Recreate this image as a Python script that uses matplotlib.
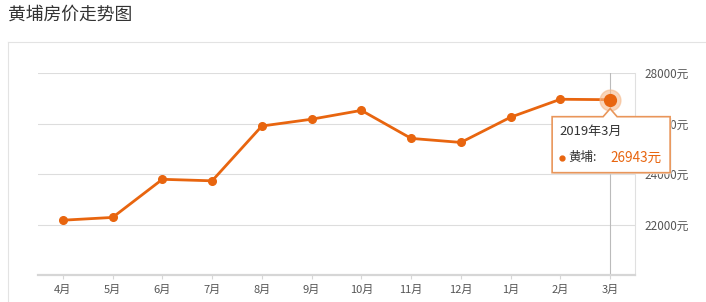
import matplotlib
matplotlib.use('Agg')
import matplotlib.pyplot as plt
from matplotlib.patches import Polygon
from matplotlib.transforms import IdentityTransform

plt.rcParams['font.family'] = ['Noto Sans CJK SC', 'DejaVu Sans']

# --- data ---
TITLE = '黄埔房价走势图'
months = ['4月', '5月', '6月', '7月', '8月', '9月', '10月', '11月', '12月', '1月', '2月', '3月']
prices = [22170, 22280, 23790, 23730, 25900, 26170, 26520, 25410, 25250, 26250, 26960, 26943]
y_ticks = [22000, 24000, 26000, 28000]
tip_title = '2019年3月'
tip_name = '黄埔'

ORANGE = '#e8650f'
W, H = 706, 302

fig = plt.figure(figsize=(W / 100, H / 100), dpi=100)
fig.patch.set_facecolor('white')

# outer card border
fig.add_artist(plt.Line2D([8 / W, 1], [1 - 42 / H, 1 - 42 / H], color='#e3e3e3', lw=0.8))
fig.add_artist(plt.Line2D([8 / W, 8 / W], [0, 1 - 42 / H], color='#e3e3e3', lw=0.8))
fig.text(8 / W, 1 - 15 / H, TITLE, fontsize=12.8, color='#333333', va='center', ha='left')

ax = fig.add_axes([38 / W, 27 / H, (635 - 38) / W, (275 - 73) / H])
x = list(range(len(months)))
ax.set_xlim(-0.5, len(months) - 0.5)
ax.set_ylim(20000, 28000)

for s in ['top', 'left']:
    ax.spines[s].set_visible(False)
ax.spines['bottom'].set_color('#d6d6d6')
ax.spines['bottom'].set_linewidth(1.6)
ax.spines['right'].set_color('#e0e0e0')
ax.spines['right'].set_linewidth(0.8)

ax.set_yticks(y_ticks)
ax.yaxis.tick_right()
ax.set_yticklabels([f'{v}元' for v in y_ticks], fontsize=8.4, color='#555555')
ax.tick_params(axis='y', length=0, pad=7)
ax.set_xticks(x)
ax.set_xticklabels(months, fontsize=8, color='#555555')
ax.tick_params(axis='x', length=3, color='#d6d6d6', pad=4)
ax.grid(axis='y', color='#dddddd', lw=0.8)
ax.set_axisbelow(True)

# crosshair at last point
ax.axvline(x[-1], color='#bbbbbb', lw=0.8, zorder=1)

ax.plot(x, prices, color=ORANGE, lw=2, marker='o', ms=5.5, zorder=3)
ax.plot(x[-1], prices[-1], 'o', ms=15, color='#f5b98c', alpha=0.6, zorder=3, clip_on=False)
ax.plot(x[-1], prices[-1], 'o', ms=8.5, color=ORANGE, zorder=4, clip_on=False)

# tooltip anchored under last point (pixel coords)
fig.canvas.draw()
px, py = ax.transData.transform((x[-1], prices[-1]))
top = py - 17
bot = top - 56
left = px - 58
right = px + 60
pts = [(left, top), (px - 7, top), (px, top + 8), (px + 7, top), (right, top),
       (right, bot), (left, bot)]
shadow = Polygon([(a + 1.5, b - 1.5) for a, b in pts], closed=True, facecolor='#eeeeee',
                 edgecolor='none', transform=IdentityTransform(), zorder=9)
fig.add_artist(shadow)
tip = Polygon(pts, closed=True, facecolor='white', edgecolor='#e9965a', lw=1.2,
              transform=IdentityTransform(), zorder=10)
fig.add_artist(tip)
fig.text(left + 7, top - 15, tip_title, transform=IdentityTransform(), fontsize=9.4,
         color='#333333', va='center', ha='left', zorder=11)
fig.add_artist(plt.Line2D([left + 10], [top - 41], marker='o', ms=3.5, color=ORANGE,
                          transform=IdentityTransform(), zorder=11))
fig.text(left + 16, top - 41, f'{tip_name}:', transform=IdentityTransform(), fontsize=9,
         color='#333333', va='center', ha='left', zorder=11)
fig.text(left + 58, top - 41, f'{prices[-1]}元', transform=IdentityTransform(), fontsize=9.8,
         color=ORANGE, va='center', ha='left', zorder=11)

fig.savefig('out.png', dpi=100)
